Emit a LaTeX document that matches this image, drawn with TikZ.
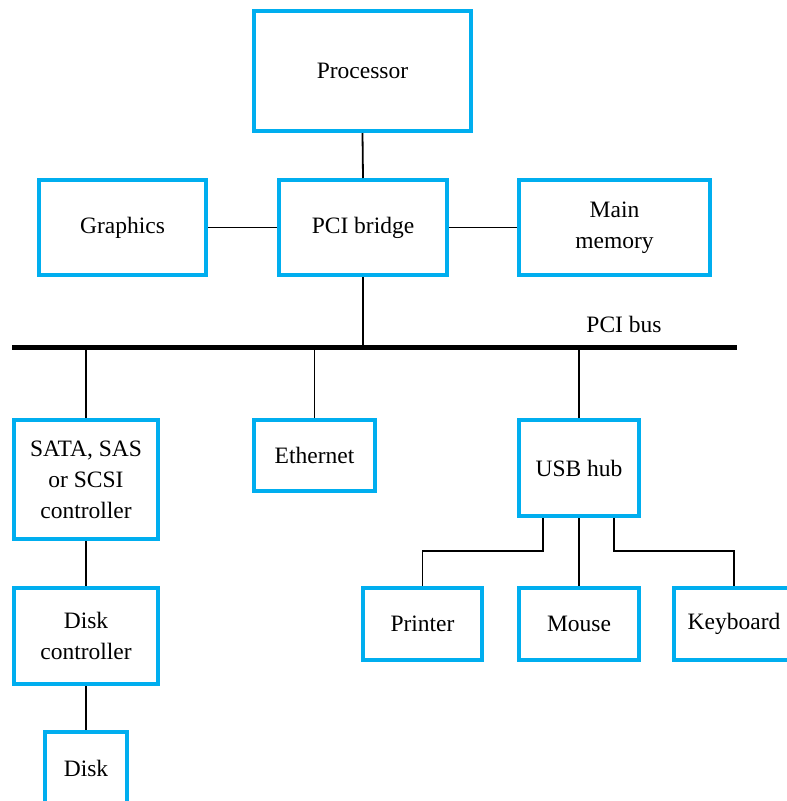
\documentclass[tikz,border=0pt]{standalone}
\usepackage{fontspec}
\setmainfont{Liberation Serif}
\definecolor{pcblue}{HTML}{00AEEF}
\tikzset{
  blk/.style={draw=pcblue, line width=4pt, align=center, inner sep=0pt,
    font=\fontsize{23.5}{31}\selectfont},
  wire/.style={draw=black, line width=1.8pt},
  busline/.style={draw=black, line width=4.5pt}
}
\begin{document}
\begin{tikzpicture}[x=1pt,y=-1pt]
\useasboundingbox (0,0) rectangle (787,801);
\clip (0,0) rectangle (787,801);
\node[blk, minimum width=217pt, minimum height=120pt] (proc) at (362.5,71) {Processor};
\node[blk, minimum width=167pt, minimum height=95pt] (graph) at (122.5,227.5) {Graphics};
\node[blk, minimum width=168pt, minimum height=95pt] (bridge) at (363,227.5) {PCI bridge};
\node[blk, minimum width=191pt, minimum height=95pt] (mem) at (614.5,227.5) {Main\\memory};
\coordinate (busL) at (12,347.5);
\coordinate (busR) at (737,347.5);
\node[font=\fontsize{23.5}{31}\selectfont, inner sep=0pt] (buslabel) at (624,324) {PCI bus};
\node[blk, minimum width=144pt, minimum height=119pt] (sata) at (86,479.5) {SATA, SAS\\or SCSI\\controller};
\node[blk, minimum width=121pt, minimum height=71pt] (eth) at (314.5,455.5) {Ethernet};
\node[blk, minimum width=120pt, minimum height=96pt] (usb) at (579,468) {USB hub};
\node[blk, minimum width=144pt, minimum height=96pt] (dctl) at (86,636) {Disk\\controller};
\node[blk, minimum width=82pt, minimum height=72pt] (disk) at (86,768) {Disk};
\node[blk, minimum width=119pt, minimum height=72pt] (printer) at (422.5,624) {Printer};
\node[blk, minimum width=120pt, minimum height=72pt] (mouse) at (579,624) {Mouse};
\node[blk, minimum width=140pt, minimum height=72pt] (kbd) at (744,624) {Keyboard\hspace*{20pt}};
\coordinate (hubY) at (0,551);
\coordinate (kbdIn) at ([xshift=-10pt]kbd.north);
% connectors
\draw[busline] (busL) -- (busR);
\draw[wire] (proc.south) -- (bridge.north);
\draw[wire] (graph.east) -- (bridge.west);
\draw[wire] (bridge.east) -- (mem.west);
\draw[wire] (bridge.south) -- (bridge.south |- busL);
\draw[wire] (sata.north) -- (sata.north |- busL);
\draw[wire] (eth.north) -- (eth.north |- busL);
\draw[wire] (usb.north) -- (usb.north |- busL);
\draw[wire] (sata.south) -- (dctl.north);
\draw[wire] (dctl.south) -- (disk.north);
\draw[wire] (usb.south) -- (mouse.north);
\draw[wire] ([xshift=-36pt]usb.south) |- (printer.north |- hubY) -- (printer.north);
\draw[wire] ([xshift=35pt]usb.south) |- (kbdIn |- hubY) -- (kbdIn);
\end{tikzpicture}
\end{document}
